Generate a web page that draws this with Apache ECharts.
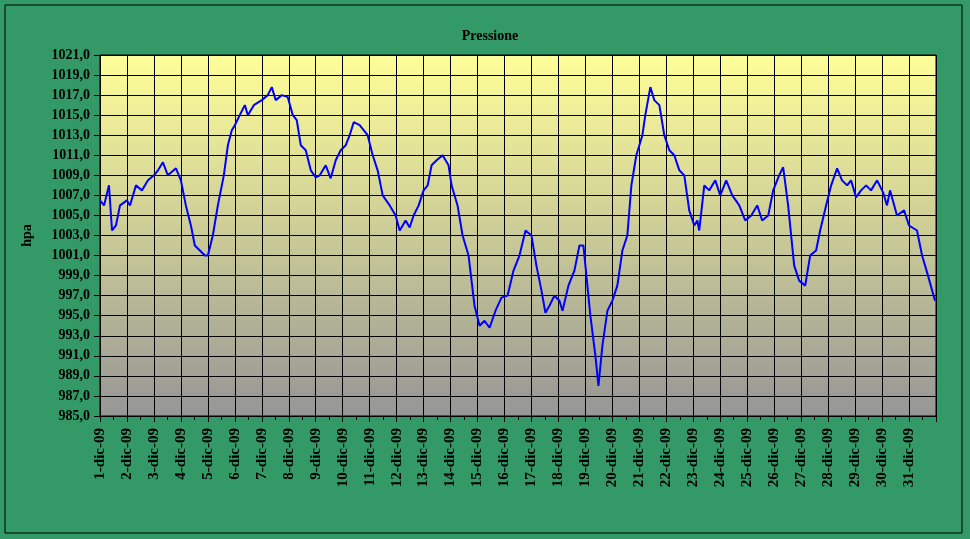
<!DOCTYPE html><html><head><meta charset="utf-8">
<script src="https://cdn.jsdelivr.net/npm/echarts@6/dist/echarts.min.js"></script>
<style>html,body{margin:0;padding:0;background:#fff}#c{width:970px;height:539px}</style></head><body><div id="c"></div>
<script>
const hours=[0,3.6,8,10.7,14.2,17.8,24,26.7,32,37.3,42.7,48,51.6,56,60.4,67.6,72,76.4,80.9,84.4,88.9,93.3,96,100.4,104.9,110.2,113.8,117.3,120,124.4,128.9,131.6,136.9,144,149.3,152.9,156.4,161.8,167.1,171.6,175.1,178.7,183.1,187.6,192,195.6,200.9,205.3,209.8,214.2,218.7,222.2,225.8,231.1,238.2,242.7,247.1,251.6,257.8,263.1,266.7,272,275.6,279.1,283.6,288,291.6,295.1,299.6,304.9,310.2,312.9,318.2,322.7,328,333.3,337.8,342.2,346.7,352,357.3,362.7,368,373.3,378.7,384,388.4,392.9,396.4,400,404.4,408.9,411.6,416.9,422.2,426.7,430.2,432.9,436.4,440.9,443.6,447.1,451.6,456,460.4,464.9,469.3,472.9,477.3,482.7,485.3,489.8,493.3,497.8,502.2,506.7,511.1,515.6,520,524.4,528.9,531.6,533.3,537.8,542.2,547.6,552,557.3,562.7,568.9,574.2,579.6,584.9,589.3,594.7,599.1,604.4,608,612.4,617.8,622.2,627.6,632,637.3,640.9,646.2,650.7,656,660.4,664.9,668.4,672.9,677.3,681.8,686.2,691.6,696.9,700.4,703.1,709.3,715.6,720,727.1,731.6,736.9,743.1];
const pressure=[1006.5,1006,1008,1003.5,1004,1006,1006.5,1006,1008,1007.5,1008.5,1009,1009.5,1010.3,1009,1009.7,1008.5,1006,1004,1002,1001.5,1001,1001,1003,1006,1009,1012,1013.5,1014,1015,1016,1015,1016,1016.5,1017,1017.8,1016.5,1017,1016.8,1015,1014.5,1012,1011.5,1009.5,1008.8,1009,1010,1008.7,1010.5,1011.5,1012,1013,1014.3,1014,1013,1011,1009.5,1007,1006,1005,1003.5,1004.5,1003.8,1005,1006,1007.5,1008,1010,1010.5,1011,1010,1008,1006,1003,1001,996,994,994.5,993.8,995.5,996.8,997,999.5,1001,1003.5,1003,1000,997.5,995.3,996,997,996.5,995.5,998,999.5,1002,1002,999,995,991,988,992,995.5,996.5,998,1001.5,1003,1008,1011,1013,1015,1017.8,1016.5,1016,1013,1011.5,1011,1009.5,1009,1005.5,1004,1004.5,1003.5,1008,1007.5,1008.5,1007,1008.5,1007,1006,1004.5,1005,1006,1004.5,1005,1007.5,1009,1009.8,1006,1000,998.5,998,1001,1001.5,1003.5,1006,1008,1009.7,1008.5,1008,1008.5,1006.8,1007.5,1008,1007.5,1008.5,1007.3,1006,1007.5,1005,1005.5,1004,1003.5,1001,999,996.5];
const title="Pressione", yName="hpa", monthSuffix="-dic-09";
const data=hours.map((h,i)=>[h,pressure[i]]);
const F='"Liberation Serif", serif';
const chart=echarts.init(document.getElementById('c'));
chart.setOption({
  backgroundColor:'#339966',
  title:{text:title,left:485,textAlign:'center',top:24,textStyle:{fontFamily:F,fontSize:14,fontWeight:'bold',color:'#000'}},
  graphic:[{type:'rect',shape:{x:5,y:5,width:957,height:528},style:{fill:'none',stroke:'#000',lineWidth:1},z:-1}],
  grid:{left:100,top:55,right:34,bottom:123,show:true,borderColor:'#000',borderWidth:1,
    backgroundColor:new echarts.graphic.LinearGradient(0,0,0,1,[{offset:0,color:'#ffff99'},{offset:1,color:'#969696'}])},
  xAxis:{type:'value',min:0,max:744,interval:24,
    axisLine:{lineStyle:{color:'#000'}},axisTick:{show:true,length:6,lineStyle:{color:'#000'}},
    minorTick:{show:true,splitNumber:2,length:4,lineStyle:{color:'#000'}},
    splitLine:{lineStyle:{color:'#000',width:1}},
    axisLabel:{rotate:90,margin:12,fontFamily:F,fontSize:15,fontWeight:'bold',color:'#000',
      formatter:v=>v>=744?'':(Math.round(v/24)+1)+monthSuffix}},
  yAxis:{type:'value',min:985,max:1021,interval:2,name:yName,nameLocation:'middle',nameGap:66,
    nameTextStyle:{fontFamily:F,fontSize:14,fontWeight:'bold',color:'#000'},
    axisLine:{show:true,lineStyle:{color:'#000'}},axisTick:{show:true,length:6,lineStyle:{color:'#000'}},
    splitLine:{lineStyle:{color:'#000',width:1}},
    axisLabel:{margin:10,fontFamily:F,fontSize:14,fontWeight:'bold',color:'#000',formatter:v=>v.toFixed(1).replace('.',',')}},
  series:[{type:'line',data:data,showSymbol:false,lineStyle:{color:'#0000ff',width:2},animation:false}]
});
</script></body></html>
